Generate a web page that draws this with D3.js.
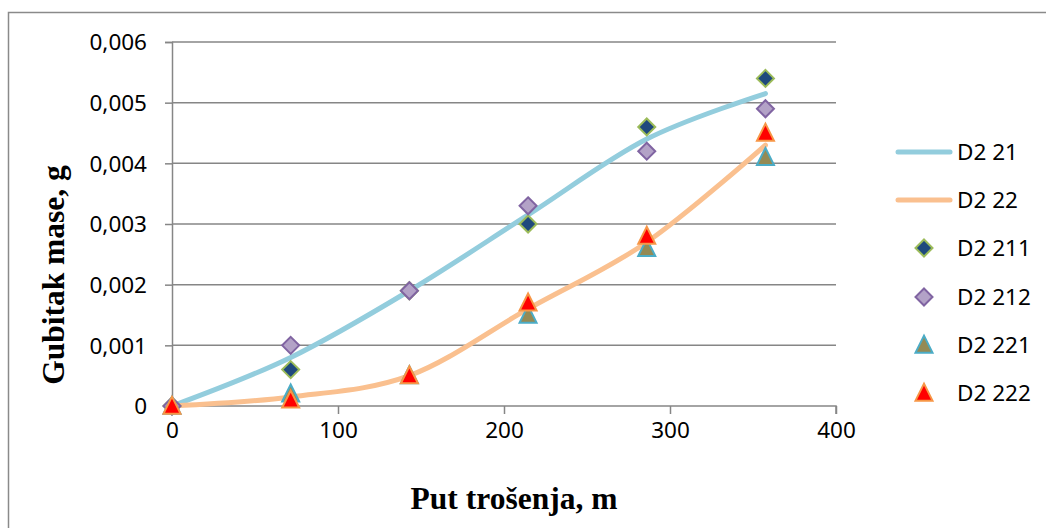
<!DOCTYPE html>
<html>
<head>
<meta charset="utf-8">
<script src="https://cdn.jsdelivr.net/npm/d3@7"></script>
<style>
  html, body { margin: 0; padding: 0; background: #fff; }
  svg { display: block; }
</style>
</head>
<body>
<svg id="chart" width="1046" height="528"></svg>
<script>
// ---- data ----
const distance = [0, 71.5, 143, 214.5, 286, 357.5];
const d2_21  = [0, 0.0008, 0.0019, 0.00315, 0.0044, 0.00515];
const d2_22  = [0, 0.00015, 0.0005, 0.0016, 0.0027, 0.0043];
const d2_211 = [0, 0.0006, 0.0019, 0.0030, 0.0046, 0.0054];
const d2_212 = [0, 0.0010, 0.0019, 0.0033, 0.0042, 0.0049];
const d2_221 = [0, 0.0002, 0.0005, 0.0015, 0.0026, 0.0041];
const d2_222 = [0, 0.0001, 0.0005, 0.0017, 0.0028, 0.0045];
const xTicks = [0, 100, 200, 300, 400];
const yTicks = [0, 0.001, 0.002, 0.003, 0.004, 0.005, 0.006];
const seriesNames = ["D2 21", "D2 22", "D2 211", "D2 212", "D2 221", "D2 222"];
const xTitle = "Put trošenja, m";
const yTitle = "Gubitak mase, g";

// ---- styles ----
const lineStyles = [
  {name: seriesNames[0], data: d2_21, color: "#93CDDD"},
  {name: seriesNames[1], data: d2_22, color: "#FAC08F"}
];
const markerStyles = [
  {name: seriesNames[2], data: d2_211, shape: "diamond", fill: "#1F497D", stroke: "#9BBB59"},
  {name: seriesNames[3], data: d2_212, shape: "diamond", fill: "#B3A2C7", stroke: "#8064A2"},
  {name: seriesNames[4], data: d2_221, shape: "triangle", fill: "#948A54", stroke: "#4BACC6"},
  {name: seriesNames[5], data: d2_222, shape: "triangle", fill: "#FF0000", stroke: "#F79646"}
];

const svg = d3.select("#chart");
const tickFont = "'Noto Sans', sans-serif";
const titleFont = "'Liberation Serif', 'Times New Roman', serif";
const gridColor = "#868686";

// outer frame
svg.append("rect").attr("x", 8.5).attr("y", 12.5).attr("width", 1100).attr("height", 600)
  .attr("fill", "none").attr("stroke", "#8a8a8a").attr("stroke-width", 1.5);

const x = d3.scaleLinear().domain([0, 400]).range([172, 836]);
const y = d3.scaleLinear().domain([0, 0.006]).range([406, 42]);

// gridlines
svg.append("g").selectAll("line").data(yTicks.filter(d => d > 0)).join("line")
  .attr("x1", 172).attr("x2", 836)
  .attr("y1", d => y(d)).attr("y2", d => y(d))
  .attr("stroke", gridColor).attr("stroke-width", 1.5);

// y axis
const yAxis = d3.axisLeft(y).tickValues(yTicks).tickSize(7).tickPadding(18)
  .tickFormat(d => d === 0 ? "0" : d3.format(".3f")(d).replace(".", ","));
const gy = svg.append("g").attr("transform", "translate(172,0)").call(yAxis);
gy.select(".domain").attr("stroke", gridColor).attr("stroke-width", 1.5);
gy.selectAll(".tick line").attr("stroke", gridColor).attr("stroke-width", 1.5);
gy.selectAll(".tick text").attr("font-family", tickFont).attr("font-size", 22.5)
  .attr("fill", "#000").attr("dy", "0.35em");

// x axis
const xAxis = d3.axisBottom(x).tickValues(xTicks).tickSize(8).tickPadding(8)
  .tickFormat(d3.format("d"));
const gx = svg.append("g").attr("transform", "translate(0,406)").call(xAxis);
gx.select(".domain").attr("stroke", gridColor).attr("stroke-width", 1.5)
  .attr("d", "M172,8V0H836V8");
gx.selectAll(".tick line").attr("stroke", gridColor).attr("stroke-width", 1.5);
gx.selectAll(".tick text").attr("font-family", tickFont).attr("font-size", 22.5)
  .attr("fill", "#000");

// axis titles
svg.append("text").attr("x", 514).attr("y", 509).attr("text-anchor", "middle")
  .attr("font-family", titleFont)
  .attr("font-weight", "bold").attr("font-size", 31.5).text(xTitle);
svg.append("text").attr("transform", "translate(64,275) rotate(-90)")
  .attr("text-anchor", "middle")
  .attr("font-family", titleFont)
  .attr("font-weight", "bold").attr("font-size", 31.5).text(yTitle);

// lines
const lineGen = d3.line()
  .x((d, i) => x(distance[i])).y(d => y(d))
  .curve(d3.curveCardinal.tension(0));
svg.append("g").selectAll("path").data(lineStyles).join("path")
  .attr("d", s => lineGen(s.data))
  .attr("fill", "none").attr("stroke", s => s.color)
  .attr("stroke-width", 5).attr("stroke-linecap", "round");

function shapePath(shape, cx, cy) {
  if (shape === "diamond") {
    const r = 8.5;
    return `M${cx},${cy - r}L${cx + r},${cy}L${cx},${cy + r}L${cx - r},${cy}Z`;
  }
  const w = 8.5, h = 17;
  return `M${cx},${cy - h * 0.55}L${cx + w},${cy + h * 0.45}L${cx - w},${cy + h * 0.45}Z`;
}

// markers
markerStyles.forEach(s => {
  svg.append("g").selectAll("path").data(s.data).join("path")
    .attr("d", (d, i) => shapePath(s.shape, x(distance[i]), y(d)))
    .attr("fill", s.fill).attr("stroke", s.stroke).attr("stroke-width", 2)
    .attr("stroke-linejoin", "miter");
});

// legend
const legendRows = [152, 200, 248, 297, 345, 393];
const lg = svg.append("g");
lineStyles.forEach((s, i) => {
  lg.append("line").attr("x1", 898).attr("x2", 950)
    .attr("y1", legendRows[i]).attr("y2", legendRows[i])
    .attr("stroke", s.color).attr("stroke-width", 5).attr("stroke-linecap", "round");
});
markerStyles.forEach((s, i) => {
  const cy = legendRows[i + 2];
  lg.append("path").attr("d", shapePath(s.shape, 924, cy))
    .attr("fill", s.fill).attr("stroke", s.stroke).attr("stroke-width", 2);
});
seriesNames.forEach((n, i) => {
  lg.append("text").attr("x", 957).attr("y", legendRows[i]).attr("dy", "0.35em")
    .attr("font-family", tickFont).attr("font-size", 22.5).attr("fill", "#000").text(n);
});
</script>
</body>
</html>
